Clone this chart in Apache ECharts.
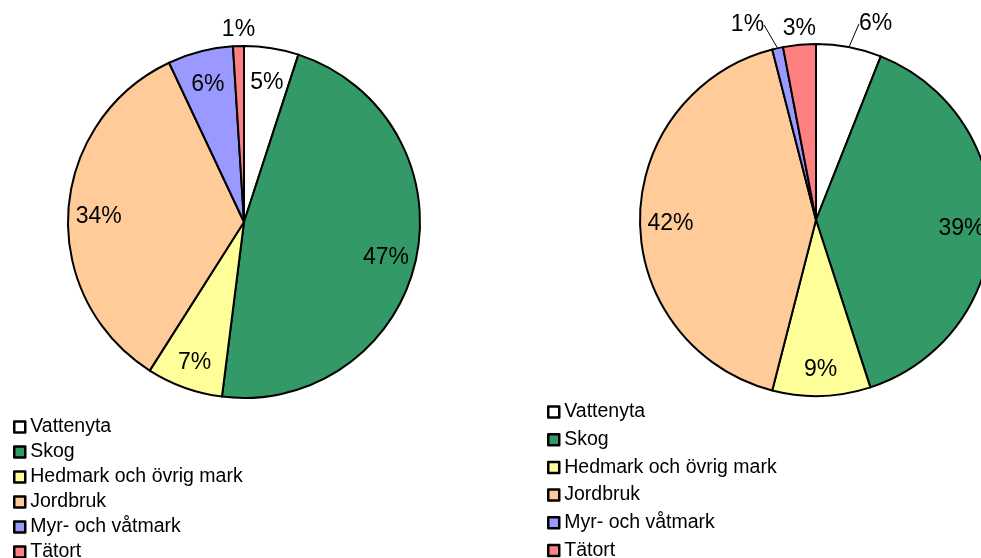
<!DOCTYPE html>
<html>
<head>
<meta charset="utf-8">
<script src="https://cdn.jsdelivr.net/npm/echarts@6/dist/echarts.min.js"></script>
<style>
  html, body { margin: 0; padding: 0; background: #fff; }
  #chart { width: 981px; height: 558px; }
</style>
</head>
<body>
<div id="chart"></div>
<script>
// land use categories, same order in both pies (clockwise from 12 o'clock)
const categories = ['Vattenyta', 'Skog', 'Hedmark och övrig mark', 'Jordbruk', 'Myr- och våtmark', 'Tätort'];
const colors = ['#ffffff', '#339966', '#ffff99', '#ffcc99', '#9999ff', '#ff8080'];

// percentages
const leftValues = [5, 47, 7, 34, 6, 1];
const rightValues = [6, 39, 9, 42, 1, 3];

// which slices have their label outside the pie (Excel "best fit")
const leftOutside = ['Tätort'];
const rightOutside = ['Vattenyta', 'Myr- och våtmark', 'Tätort'];
// outside labels that sit right on the rim, without a leader line
const noLine = ['Tätort'];

const font = 'Liberation Sans, Arial, sans-serif';
const R = 176;

function mainPie(values, center, outside) {
  return {
    type: 'pie',
    center: center,
    radius: R,
    startAngle: 90,
    avoidLabelOverlap: false,
    emphasis: { scale: false },
    itemStyle: { borderColor: '#000', borderWidth: 2 },
    labelLine: { length: 16, length2: 0 },
    labelLayout: function (params) {
      const p = params.labelLinePoints;
      if (!p) return {};
      if (noLine.indexOf(categories[params.dataIndex]) >= 0) {
        return { x: p[0][0], y: p[0][1] - 5, align: 'center', verticalAlign: 'bottom' };
      }
      const end = p[p.length - 1];
      const right = end[0] > p[0][0];
      return {
        x: end[0] + (right ? 7 : -10),
        y: end[1] + 4,
        align: right ? 'left' : 'right',
        verticalAlign: 'bottom'
      };
    },
    data: categories.map((name, i) => {
      const out = outside.indexOf(name) >= 0;
      const hidden = noLine.indexOf(name) >= 0;
      return {
        name: name,
        value: values[i],
        itemStyle: { color: colors[i] },
        label: {
          show: out,
          position: 'outside',
          formatter: '{c}%',
          color: '#000',
          fontSize: 23,
          fontFamily: font
        },
        labelLine: {
          show: out,
          lineStyle: { color: '#000', width: 1, opacity: hidden ? 0 : 1 }
        }
      };
    })
  };
}

// transparent ring on top, only to put the inner labels at ~0.82 of the radius
function labelRing(values, center, outside) {
  return {
    type: 'pie',
    center: center,
    radius: [R * 0.62, R],
    startAngle: 90,
    silent: true,
    itemStyle: { color: 'rgba(0,0,0,0)', borderWidth: 0 },
    label: {
      position: 'inside',
      formatter: '{c}%',
      color: '#000',
      fontSize: 23,
      fontFamily: font,
      offset: [0, 4]
    },
    labelLine: { show: false },
    data: categories.map((name, i) => ({
      name: name,
      value: values[i],
      label: { show: outside.indexOf(name) < 0 }
    }))
  };
}

function legend(left, top, gap) {
  return {
    data: categories,
    orient: 'vertical',
    left: left,
    top: top,
    height: 220,
    padding: 0,
    itemGap: gap,
    itemWidth: 11,
    itemHeight: 11,
    icon: 'rect',
    itemStyle: { borderColor: '#000', borderWidth: 2.5 },
    textStyle: { color: '#000', fontSize: 19.5, fontFamily: font, lineHeight: 20 },
    selectedMode: false
  };
}

const chart = echarts.init(document.getElementById('chart'), null, { renderer: 'canvas' });
chart.setOption({
  backgroundColor: '#fff',
  animation: false,
  legend: [
    legend(13, 417, 5),
    legend(547, 402, 7.7)
  ],
  series: [
    mainPie(leftValues, [244, 222], leftOutside),
    mainPie(rightValues, [816, 220], rightOutside),
    labelRing(leftValues, [244, 222], leftOutside),
    labelRing(rightValues, [816, 220], rightOutside)
  ]
});
</script>
</body>
</html>
